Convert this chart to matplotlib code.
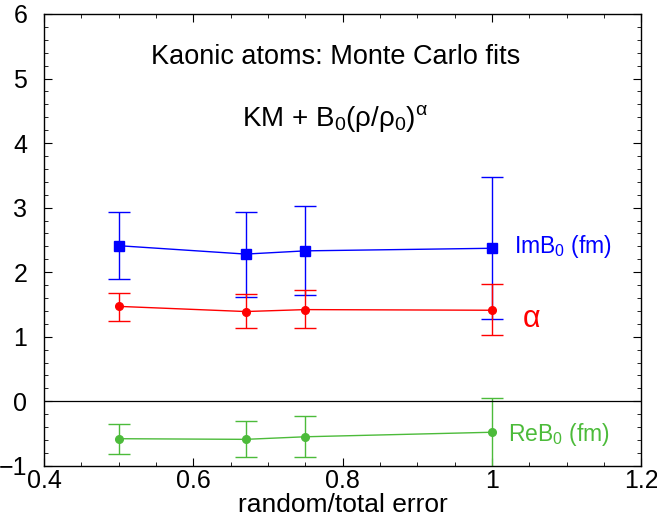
import numpy as np
import matplotlib
matplotlib.use('Agg')
import matplotlib.pyplot as plt
from matplotlib.ticker import MultipleLocator

plt.rcParams['font.family'] = ['Liberation Sans', 'DejaVu Sans']
plt.rcParams['mathtext.fontset'] = 'custom'
plt.rcParams['mathtext.rm'] = 'Liberation Sans'
plt.rcParams['mathtext.it'] = 'Liberation Sans'

# data
frac = [0.5, 0.67, 0.75, 1.0]
im_b0 = [2.41, 2.28, 2.33, 2.37]
im_hi = [2.93, 2.93, 3.02, 3.47]
im_lo = [1.89, 1.62, 1.64, 1.27]
alpha = [1.47, 1.39, 1.42, 1.41]
al_hi = [1.67, 1.66, 1.72, 1.81]
al_lo = [1.25, 1.13, 1.13, 1.02]
re_b0 = [-0.58, -0.59, -0.55, -0.48]
re_hi = [-0.35, -0.31, -0.23, 0.05]
re_lo = [-0.81, -0.87, -0.87, -1.30]

GREEN = '#4cbb3a'

fig = plt.figure(figsize=(6.57, 5.17), dpi=100)
ax = fig.add_axes([0.067, 0.099, 0.909, 0.874])

def series(y, hi, lo, col, mk, ms):
    y = np.array(y); hi = np.array(hi); lo = np.array(lo)
    ax.errorbar(frac, y, yerr=[y - lo, hi - y], color=col, marker=mk, ms=ms,
                lw=1.0, elinewidth=1.0, capsize=8, capthick=1.0, clip_on=True)

series(im_b0, im_hi, im_lo, '#0000ff', 's', 7)
series(alpha, al_hi, al_lo, '#ff0000', 'o', 5.5)
series(re_b0, re_hi, re_lo, GREEN, 'o', 5.5)

ax.axhline(0, color='black', lw=0.9)

ax.text(1.029, 2.4, r'ImB$_0$ (fm)', color='#0000ff', fontsize=16.5, va='center')
ax.text(1.04, 1.27, r'$\alpha$', color='#ff0000', fontsize=22, va='center')
ax.text(1.021, -0.51, r'ReB$_0$ (fm)', color=GREEN, fontsize=16.5, va='center')

ax.text(0.79, 5.33, 'Kaonic atoms: Monte Carlo fits', fontsize=19.5, ha='center', va='center')
ax.text(0.79, 4.38, r'KM + B$_0$($\rho$/$\rho_0$)$^\alpha$', fontsize=20, ha='center', va='center')

ax.set_xlim(0.4, 1.2)
ax.set_ylim(-1, 6)
ax.xaxis.set_major_locator(MultipleLocator(0.2))
ax.xaxis.set_minor_locator(MultipleLocator(0.05))
ax.yaxis.set_major_locator(MultipleLocator(1))
ax.yaxis.set_minor_locator(MultipleLocator(0.2))
ax.tick_params(which='both', direction='in', top=True, right=True, labelsize=18)
ax.tick_params(which='major', length=6)
ax.tick_params(which='minor', length=3)
ax.tick_params(axis='x', pad=2)
ax.tick_params(axis='y', pad=12)
ax.set_yticks([-1, 0, 1, 2, 3, 4, 5, 6])
ax.set_yticklabels(['\u22121', '0', '1', '2', '3', '4', '5', '6'])
ax.set_xticks([0.4, 0.6, 0.8, 1.0, 1.2])
ax.set_xticklabels(['0.4', '0.6', '0.8', '1', '1.2'])
ax.set_xlabel('random/total error', fontsize=19, labelpad=0)
for s in ax.spines.values():
    s.set_linewidth(1.0)

fig.savefig('out.png', dpi=100)
